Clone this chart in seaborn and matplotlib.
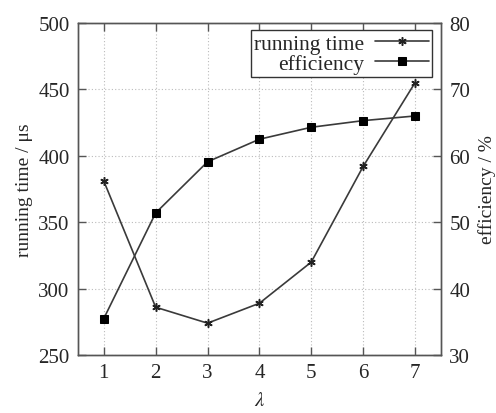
import numpy as np
import pandas as pd
import seaborn as sns
import matplotlib.pyplot as plt

# values
lam = [1, 2, 3, 4, 5, 6, 7]
running_time = [381, 286, 274, 289, 320, 392, 455]
efficiency = [35.5, 51.4, 59.1, 62.5, 64.3, 65.3, 66.0]

sns.set_style("ticks")
plt.rcParams['font.family'] = ['Liberation Serif', 'DejaVu Serif']
plt.rcParams['mathtext.fontset'] = 'stix'

df = pd.DataFrame({"lam": lam, "rt": running_time, "eff": efficiency})

fig = plt.figure(figsize=(4.96, 4.14), dpi=100)
ax = fig.add_axes([0.157, 0.140, 0.732, 0.802])
ax2 = ax.twinx()

line_col = "#3a3a3a"
sns.lineplot(data=df, x="lam", y="rt", ax=ax, color=line_col, lw=1.2,
             marker=(6, 2, 0), markersize=6, markeredgewidth=1.1,
             markeredgecolor="#222222", label="running time", legend=False)
sns.lineplot(data=df, x="lam", y="eff", ax=ax2, color=line_col, lw=1.2,
             marker="s", markersize=6, markerfacecolor="black",
             markeredgecolor="black", label="efficiency", legend=False)

ax.set_xlim(0.5, 7.5)
ax.set_ylim(250, 500)
ax2.set_ylim(30, 80)
ax.set_xticks(lam)
ax.set_yticks([250, 300, 350, 400, 450, 500])
ax2.set_yticks([30, 40, 50, 60, 70, 80])

ax.grid(True, color="#bbbbbb", linestyle=(0, (1, 2)), lw=0.8)
ax.set_axisbelow(True)

for a in (ax, ax2):
    for s in a.spines.values():
        s.set_color("#555555")
        s.set_linewidth(1.0)
ax.tick_params(axis="both", direction="in", length=6, width=1, color="#555555",
               labelsize=15, top=True, pad=6)
ax2.tick_params(axis="y", direction="in", length=6, width=1, color="#555555",
                labelsize=15, pad=6)

ax.set_xlabel(r"$\lambda$", fontsize=15, labelpad=6)
ax.set_ylabel("running time / μs", fontsize=14, labelpad=4)
ax2.set_ylabel("efficiency / %", fontsize=14, labelpad=6)

h1, l1 = ax.get_legend_handles_labels()
h2, l2 = ax2.get_legend_handles_labels()
leg = ax2.legend(h1 + h2, l1 + l2, loc="upper right", bbox_to_anchor=(0.975, 0.978),
                 borderaxespad=0, markerfirst=False, fancybox=False, framealpha=1,
                 edgecolor="#333333", fontsize=15.5, handlelength=2.5,
                 borderpad=0.15, labelspacing=0.0, handletextpad=0.5)
for t in leg.get_texts():
    t.set_ha("right")
leg._legend_box.align = "right"

fig.savefig("out.png", dpi=100)
